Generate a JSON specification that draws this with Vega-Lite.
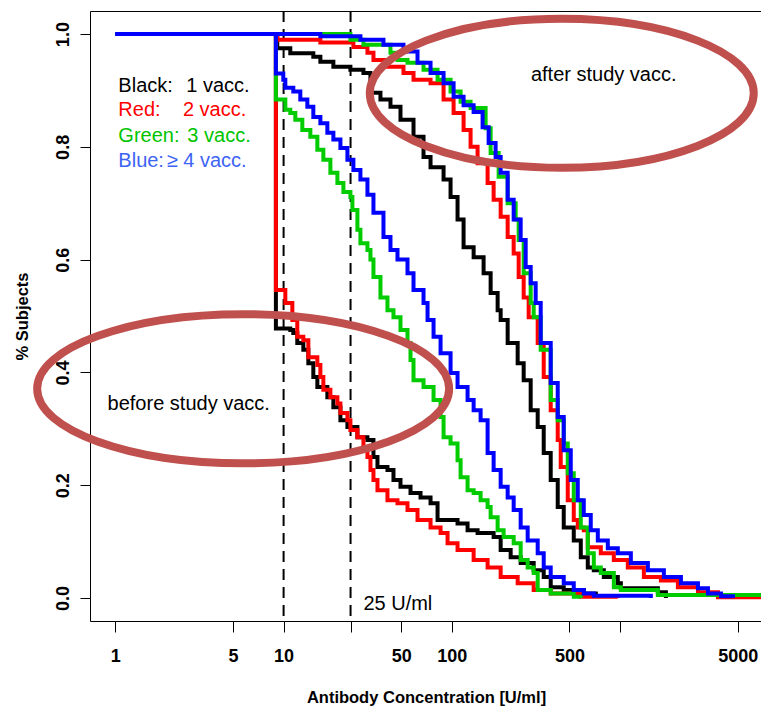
{
  "$schema": "https://vega.github.io/schema/vega-lite/v6.json",
  "width": 672,
  "height": 610,
  "autosize": "none",
  "padding": {"left": 90, "top": 11, "right": 0, "bottom": 86},
  "config": {
    "font": "Liberation Sans",
    "view": {"stroke": "#000000", "strokeWidth": 1},
    "axis": {"grid": false, "domain": false, "tickColor": "#000000", "labelColor": "#000000", "titleColor": "#000000", "labelFont": "Liberation Sans", "titleFont": "Liberation Sans"}
  },
  "datasets": {
    "curves": [
      {"dose": "1 vacc.", "time": "before", "conc": 1, "pct": 1},
      {"dose": "1 vacc.", "time": "before", "conc": 9, "pct": 0.478},
      {"dose": "1 vacc.", "time": "before", "conc": 10.96, "pct": 0.475},
      {"dose": "1 vacc.", "time": "before", "conc": 11.42, "pct": 0.47},
      {"dose": "1 vacc.", "time": "before", "conc": 12.06, "pct": 0.452},
      {"dose": "1 vacc.", "time": "before", "conc": 13.1, "pct": 0.44},
      {"dose": "1 vacc.", "time": "before", "conc": 14.03, "pct": 0.416},
      {"dose": "1 vacc.", "time": "before", "conc": 15.02, "pct": 0.392},
      {"dose": "1 vacc.", "time": "before", "conc": 15.87, "pct": 0.374},
      {"dose": "1 vacc.", "time": "before", "conc": 18.2, "pct": 0.356},
      {"dose": "1 vacc.", "time": "before", "conc": 19.76, "pct": 0.338},
      {"dose": "1 vacc.", "time": "before", "conc": 21.76, "pct": 0.315},
      {"dose": "1 vacc.", "time": "before", "conc": 23.95, "pct": 0.303},
      {"dose": "1 vacc.", "time": "before", "conc": 27.46, "pct": 0.285},
      {"dose": "1 vacc.", "time": "before", "conc": 31.5, "pct": 0.28},
      {"dose": "1 vacc.", "time": "before", "conc": 34.2, "pct": 0.25},
      {"dose": "1 vacc.", "time": "before", "conc": 36.13, "pct": 0.232},
      {"dose": "1 vacc.", "time": "before", "conc": 41.43, "pct": 0.227},
      {"dose": "1 vacc.", "time": "before", "conc": 44.98, "pct": 0.209},
      {"dose": "1 vacc.", "time": "before", "conc": 49.51, "pct": 0.197},
      {"dose": "1 vacc.", "time": "before", "conc": 56.79, "pct": 0.186},
      {"dose": "1 vacc.", "time": "before", "conc": 65.13, "pct": 0.178},
      {"dose": "1 vacc.", "time": "before", "conc": 74.7, "pct": 0.168},
      {"dose": "1 vacc.", "time": "before", "conc": 82.22, "pct": 0.138},
      {"dose": "1 vacc.", "time": "before", "conc": 108.1, "pct": 0.132},
      {"dose": "1 vacc.", "time": "before", "conc": 124, "pct": 0.12},
      {"dose": "1 vacc.", "time": "before", "conc": 142.2, "pct": 0.115},
      {"dose": "1 vacc.", "time": "before", "conc": 177.1, "pct": 0.108},
      {"dose": "1 vacc.", "time": "before", "conc": 195, "pct": 0.085},
      {"dose": "1 vacc.", "time": "before", "conc": 223.6, "pct": 0.072},
      {"dose": "1 vacc.", "time": "before", "conc": 256.4, "pct": 0.062},
      {"dose": "1 vacc.", "time": "before", "conc": 306.4, "pct": 0.049},
      {"dose": "1 vacc.", "time": "before", "conc": 351.5, "pct": 0.037},
      {"dose": "1 vacc.", "time": "before", "conc": 386.8, "pct": 0.019},
      {"dose": "1 vacc.", "time": "before", "conc": 462.3, "pct": 0.014},
      {"dose": "1 vacc.", "time": "before", "conc": 608.2, "pct": 0.008},
      {"dose": "1 vacc.", "time": "before", "conc": 717, "pct": 0},

      {"dose": "1 vacc.", "time": "after", "conc": 1, "pct": 1},
      {"dose": "1 vacc.", "time": "after", "conc": 9.17, "pct": 0.975},
      {"dose": "1 vacc.", "time": "after", "conc": 10.96, "pct": 0.966},
      {"dose": "1 vacc.", "time": "after", "conc": 15.02, "pct": 0.96},
      {"dose": "1 vacc.", "time": "after", "conc": 16.54, "pct": 0.951},
      {"dose": "1 vacc.", "time": "after", "conc": 19.76, "pct": 0.942},
      {"dose": "1 vacc.", "time": "after", "conc": 24.95, "pct": 0.937},
      {"dose": "1 vacc.", "time": "after", "conc": 29.82, "pct": 0.931},
      {"dose": "1 vacc.", "time": "after", "conc": 32.82, "pct": 0.896},
      {"dose": "1 vacc.", "time": "after", "conc": 37.64, "pct": 0.884},
      {"dose": "1 vacc.", "time": "after", "conc": 43.17, "pct": 0.871},
      {"dose": "1 vacc.", "time": "after", "conc": 49.51, "pct": 0.848},
      {"dose": "1 vacc.", "time": "after", "conc": 59.17, "pct": 0.818},
      {"dose": "1 vacc.", "time": "after", "conc": 67.86, "pct": 0.782},
      {"dose": "1 vacc.", "time": "after", "conc": 74.7, "pct": 0.764},
      {"dose": "1 vacc.", "time": "after", "conc": 89.27, "pct": 0.742},
      {"dose": "1 vacc.", "time": "after", "conc": 98.24, "pct": 0.711},
      {"dose": "1 vacc.", "time": "after", "conc": 108.1, "pct": 0.671},
      {"dose": "1 vacc.", "time": "after", "conc": 117.4, "pct": 0.622},
      {"dose": "1 vacc.", "time": "after", "conc": 134.7, "pct": 0.604},
      {"dose": "1 vacc.", "time": "after", "conc": 154.4, "pct": 0.576},
      {"dose": "1 vacc.", "time": "after", "conc": 170, "pct": 0.541},
      {"dose": "1 vacc.", "time": "after", "conc": 187.1, "pct": 0.51},
      {"dose": "1 vacc.", "time": "after", "conc": 195, "pct": 0.493},
      {"dose": "1 vacc.", "time": "after", "conc": 214.6, "pct": 0.452},
      {"dose": "1 vacc.", "time": "after", "conc": 246.1, "pct": 0.416},
      {"dose": "1 vacc.", "time": "after", "conc": 267.2, "pct": 0.386},
      {"dose": "1 vacc.", "time": "after", "conc": 294.1, "pct": 0.333},
      {"dose": "1 vacc.", "time": "after", "conc": 323.7, "pct": 0.303},
      {"dose": "1 vacc.", "time": "after", "conc": 351.5, "pct": 0.257},
      {"dose": "1 vacc.", "time": "after", "conc": 386.8, "pct": 0.209},
      {"dose": "1 vacc.", "time": "after", "conc": 425.8, "pct": 0.161},
      {"dose": "1 vacc.", "time": "after", "conc": 462.3, "pct": 0.125},
      {"dose": "1 vacc.", "time": "after", "conc": 530.3, "pct": 0.102},
      {"dose": "1 vacc.", "time": "after", "conc": 583.8, "pct": 0.072},
      {"dose": "1 vacc.", "time": "after", "conc": 642.5, "pct": 0.054},
      {"dose": "1 vacc.", "time": "after", "conc": 697.5, "pct": 0.049},
      {"dose": "1 vacc.", "time": "after", "conc": 799.9, "pct": 0.037},
      {"dose": "1 vacc.", "time": "after", "conc": 969, "pct": 0.026},
      {"dose": "1 vacc.", "time": "after", "conc": 1010, "pct": 0.017},
      {"dose": "1 vacc.", "time": "after", "conc": 1676, "pct": 0.01},
      {"dose": "1 vacc.", "time": "after", "conc": 1871, "pct": 0},

      {"dose": "2 vacc.", "time": "before", "conc": 1, "pct": 1},
      {"dose": "2 vacc.", "time": "before", "conc": 9, "pct": 0.546},
      {"dose": "2 vacc.", "time": "before", "conc": 10.24, "pct": 0.523},
      {"dose": "2 vacc.", "time": "before", "conc": 11.27, "pct": 0.493},
      {"dose": "2 vacc.", "time": "before", "conc": 12.06, "pct": 0.463},
      {"dose": "2 vacc.", "time": "before", "conc": 13.1, "pct": 0.457},
      {"dose": "2 vacc.", "time": "before", "conc": 14.03, "pct": 0.427},
      {"dose": "2 vacc.", "time": "before", "conc": 15.87, "pct": 0.413},
      {"dose": "2 vacc.", "time": "before", "conc": 16.54, "pct": 0.392},
      {"dose": "2 vacc.", "time": "before", "conc": 17.23, "pct": 0.369},
      {"dose": "2 vacc.", "time": "before", "conc": 18.97, "pct": 0.356},
      {"dose": "2 vacc.", "time": "before", "conc": 20.88, "pct": 0.345},
      {"dose": "2 vacc.", "time": "before", "conc": 21.76, "pct": 0.328},
      {"dose": "2 vacc.", "time": "before", "conc": 23.95, "pct": 0.315},
      {"dose": "2 vacc.", "time": "before", "conc": 24.95, "pct": 0.298},
      {"dose": "2 vacc.", "time": "before", "conc": 27.46, "pct": 0.285},
      {"dose": "2 vacc.", "time": "before", "conc": 29.82, "pct": 0.267},
      {"dose": "2 vacc.", "time": "before", "conc": 31.5, "pct": 0.25},
      {"dose": "2 vacc.", "time": "before", "conc": 32.82, "pct": 0.227},
      {"dose": "2 vacc.", "time": "before", "conc": 34.2, "pct": 0.209},
      {"dose": "2 vacc.", "time": "before", "conc": 36.13, "pct": 0.191},
      {"dose": "2 vacc.", "time": "before", "conc": 41.43, "pct": 0.173},
      {"dose": "2 vacc.", "time": "before", "conc": 47.52, "pct": 0.168},
      {"dose": "2 vacc.", "time": "before", "conc": 54.5, "pct": 0.156},
      {"dose": "2 vacc.", "time": "before", "conc": 62.5, "pct": 0.138},
      {"dose": "2 vacc.", "time": "before", "conc": 74.7, "pct": 0.125},
      {"dose": "2 vacc.", "time": "before", "conc": 85.67, "pct": 0.115},
      {"dose": "2 vacc.", "time": "before", "conc": 94.28, "pct": 0.097},
      {"dose": "2 vacc.", "time": "before", "conc": 108.1, "pct": 0.085},
      {"dose": "2 vacc.", "time": "before", "conc": 134.7, "pct": 0.067},
      {"dose": "2 vacc.", "time": "before", "conc": 163.1, "pct": 0.054},
      {"dose": "2 vacc.", "time": "before", "conc": 195, "pct": 0.037},
      {"dose": "2 vacc.", "time": "before", "conc": 246.1, "pct": 0.026},
      {"dose": "2 vacc.", "time": "before", "conc": 306.4, "pct": 0.014},
      {"dose": "2 vacc.", "time": "before", "conc": 386.8, "pct": 0.008},
      {"dose": "2 vacc.", "time": "before", "conc": 583.8, "pct": 0.002},
      {"dose": "2 vacc.", "time": "before", "conc": 969, "pct": 0},

      {"dose": "2 vacc.", "time": "after", "conc": 1, "pct": 1},
      {"dose": "2 vacc.", "time": "after", "conc": 9.17, "pct": 0.99},
      {"dose": "2 vacc.", "time": "after", "conc": 16.54, "pct": 0.985},
      {"dose": "2 vacc.", "time": "after", "conc": 25.99, "pct": 0.977},
      {"dose": "2 vacc.", "time": "after", "conc": 31.5, "pct": 0.967},
      {"dose": "2 vacc.", "time": "after", "conc": 34.2, "pct": 0.954},
      {"dose": "2 vacc.", "time": "after", "conc": 41.43, "pct": 0.942},
      {"dose": "2 vacc.", "time": "after", "conc": 51.59, "pct": 0.931},
      {"dose": "2 vacc.", "time": "after", "conc": 59.17, "pct": 0.919},
      {"dose": "2 vacc.", "time": "after", "conc": 74.7, "pct": 0.913},
      {"dose": "2 vacc.", "time": "after", "conc": 89.27, "pct": 0.884},
      {"dose": "2 vacc.", "time": "after", "conc": 102.4, "pct": 0.86},
      {"dose": "2 vacc.", "time": "after", "conc": 117.4, "pct": 0.83},
      {"dose": "2 vacc.", "time": "after", "conc": 129.2, "pct": 0.8},
      {"dose": "2 vacc.", "time": "after", "conc": 142.2, "pct": 0.771},
      {"dose": "2 vacc.", "time": "after", "conc": 163.1, "pct": 0.736},
      {"dose": "2 vacc.", "time": "after", "conc": 177.1, "pct": 0.706},
      {"dose": "2 vacc.", "time": "after", "conc": 195, "pct": 0.676},
      {"dose": "2 vacc.", "time": "after", "conc": 214.6, "pct": 0.64},
      {"dose": "2 vacc.", "time": "after", "conc": 233, "pct": 0.611},
      {"dose": "2 vacc.", "time": "after", "conc": 249.5, "pct": 0.569},
      {"dose": "2 vacc.", "time": "after", "conc": 267.2, "pct": 0.533},
      {"dose": "2 vacc.", "time": "after", "conc": 286.1, "pct": 0.498},
      {"dose": "2 vacc.", "time": "after", "conc": 323.7, "pct": 0.452},
      {"dose": "2 vacc.", "time": "after", "conc": 351.5, "pct": 0.392},
      {"dose": "2 vacc.", "time": "after", "conc": 386.8, "pct": 0.333},
      {"dose": "2 vacc.", "time": "after", "conc": 425.8, "pct": 0.28},
      {"dose": "2 vacc.", "time": "after", "conc": 443.6, "pct": 0.232},
      {"dose": "2 vacc.", "time": "after", "conc": 488.4, "pct": 0.173},
      {"dose": "2 vacc.", "time": "after", "conc": 530.3, "pct": 0.138},
      {"dose": "2 vacc.", "time": "after", "conc": 560.2, "pct": 0.125},
      {"dose": "2 vacc.", "time": "after", "conc": 608.2, "pct": 0.12},
      {"dose": "2 vacc.", "time": "after", "conc": 642.5, "pct": 0.09},
      {"dose": "2 vacc.", "time": "after", "conc": 767.7, "pct": 0.079},
      {"dose": "2 vacc.", "time": "after", "conc": 917.5, "pct": 0.067},
      {"dose": "2 vacc.", "time": "after", "conc": 1111, "pct": 0.054},
      {"dose": "2 vacc.", "time": "after", "conc": 1384, "pct": 0.037},
      {"dose": "2 vacc.", "time": "after", "conc": 1747, "pct": 0.031},
      {"dose": "2 vacc.", "time": "after", "conc": 2205, "pct": 0.019},
      {"dose": "2 vacc.", "time": "after", "conc": 2901, "pct": 0.01},
      {"dose": "2 vacc.", "time": "after", "conc": 3815, "pct": 0.001},
      {"dose": "2 vacc.", "time": "after", "conc": 6970, "pct": 0.001},

      {"dose": "3 vacc.", "time": "before", "conc": 1, "pct": 1},
      {"dose": "3 vacc.", "time": "before", "conc": 9, "pct": 0.884},
      {"dose": "3 vacc.", "time": "before", "conc": 10.24, "pct": 0.866},
      {"dose": "3 vacc.", "time": "before", "conc": 10.96, "pct": 0.86},
      {"dose": "3 vacc.", "time": "before", "conc": 11.74, "pct": 0.848},
      {"dose": "3 vacc.", "time": "before", "conc": 12.92, "pct": 0.83},
      {"dose": "3 vacc.", "time": "before", "conc": 14.42, "pct": 0.818},
      {"dose": "3 vacc.", "time": "before", "conc": 15.87, "pct": 0.795},
      {"dose": "3 vacc.", "time": "before", "conc": 17.23, "pct": 0.777},
      {"dose": "3 vacc.", "time": "before", "conc": 18.97, "pct": 0.754},
      {"dose": "3 vacc.", "time": "before", "conc": 20.88, "pct": 0.736},
      {"dose": "3 vacc.", "time": "before", "conc": 22.67, "pct": 0.72},
      {"dose": "3 vacc.", "time": "before", "conc": 24.95, "pct": 0.711},
      {"dose": "3 vacc.", "time": "before", "conc": 25.64, "pct": 0.688},
      {"dose": "3 vacc.", "time": "before", "conc": 27.46, "pct": 0.653},
      {"dose": "3 vacc.", "time": "before", "conc": 28.61, "pct": 0.629},
      {"dose": "3 vacc.", "time": "before", "conc": 31.5, "pct": 0.617},
      {"dose": "3 vacc.", "time": "before", "conc": 32.82, "pct": 0.6},
      {"dose": "3 vacc.", "time": "before", "conc": 34.2, "pct": 0.569},
      {"dose": "3 vacc.", "time": "before", "conc": 37.64, "pct": 0.533},
      {"dose": "3 vacc.", "time": "before", "conc": 41.43, "pct": 0.51},
      {"dose": "3 vacc.", "time": "before", "conc": 44.98, "pct": 0.498},
      {"dose": "3 vacc.", "time": "before", "conc": 49.51, "pct": 0.475},
      {"dose": "3 vacc.", "time": "before", "conc": 54.5, "pct": 0.452},
      {"dose": "3 vacc.", "time": "before", "conc": 56.79, "pct": 0.422},
      {"dose": "3 vacc.", "time": "before", "conc": 59.17, "pct": 0.386},
      {"dose": "3 vacc.", "time": "before", "conc": 67.86, "pct": 0.374},
      {"dose": "3 vacc.", "time": "before", "conc": 77.84, "pct": 0.351},
      {"dose": "3 vacc.", "time": "before", "conc": 85.67, "pct": 0.321},
      {"dose": "3 vacc.", "time": "before", "conc": 89.27, "pct": 0.285},
      {"dose": "3 vacc.", "time": "before", "conc": 98.24, "pct": 0.274},
      {"dose": "3 vacc.", "time": "before", "conc": 108.1, "pct": 0.244},
      {"dose": "3 vacc.", "time": "before", "conc": 112.7, "pct": 0.214},
      {"dose": "3 vacc.", "time": "before", "conc": 124, "pct": 0.191},
      {"dose": "3 vacc.", "time": "before", "conc": 134.7, "pct": 0.186},
      {"dose": "3 vacc.", "time": "before", "conc": 148.2, "pct": 0.173},
      {"dose": "3 vacc.", "time": "before", "conc": 163.1, "pct": 0.161},
      {"dose": "3 vacc.", "time": "before", "conc": 170, "pct": 0.143},
      {"dose": "3 vacc.", "time": "before", "conc": 187.1, "pct": 0.12},
      {"dose": "3 vacc.", "time": "before", "conc": 203.1, "pct": 0.108},
      {"dose": "3 vacc.", "time": "before", "conc": 233, "pct": 0.097},
      {"dose": "3 vacc.", "time": "before", "conc": 256.4, "pct": 0.067},
      {"dose": "3 vacc.", "time": "before", "conc": 282.2, "pct": 0.054},
      {"dose": "3 vacc.", "time": "before", "conc": 306.4, "pct": 0.044},
      {"dose": "3 vacc.", "time": "before", "conc": 323.7, "pct": 0.014},
      {"dose": "3 vacc.", "time": "before", "conc": 386.8, "pct": 0.008},
      {"dose": "3 vacc.", "time": "before", "conc": 530.3, "pct": 0.002},
      {"dose": "3 vacc.", "time": "before", "conc": 583.8, "pct": 0},

      {"dose": "3 vacc.", "time": "after", "conc": 1, "pct": 1},
      {"dose": "3 vacc.", "time": "after", "conc": 24.95, "pct": 0.99},
      {"dose": "3 vacc.", "time": "after", "conc": 29.82, "pct": 0.981},
      {"dose": "3 vacc.", "time": "after", "conc": 43.17, "pct": 0.967},
      {"dose": "3 vacc.", "time": "after", "conc": 47.52, "pct": 0.954},
      {"dose": "3 vacc.", "time": "after", "conc": 54.5, "pct": 0.949},
      {"dose": "3 vacc.", "time": "after", "conc": 67.86, "pct": 0.937},
      {"dose": "3 vacc.", "time": "after", "conc": 82.22, "pct": 0.919},
      {"dose": "3 vacc.", "time": "after", "conc": 98.24, "pct": 0.898},
      {"dose": "3 vacc.", "time": "after", "conc": 112.7, "pct": 0.88},
      {"dose": "3 vacc.", "time": "after", "conc": 129.2, "pct": 0.869},
      {"dose": "3 vacc.", "time": "after", "conc": 158.7, "pct": 0.833},
      {"dose": "3 vacc.", "time": "after", "conc": 170, "pct": 0.789},
      {"dose": "3 vacc.", "time": "after", "conc": 189.7, "pct": 0.747},
      {"dose": "3 vacc.", "time": "after", "conc": 214.6, "pct": 0.7},
      {"dose": "3 vacc.", "time": "after", "conc": 239.4, "pct": 0.671},
      {"dose": "3 vacc.", "time": "after", "conc": 249.5, "pct": 0.635},
      {"dose": "3 vacc.", "time": "after", "conc": 267.2, "pct": 0.576},
      {"dose": "3 vacc.", "time": "after", "conc": 294.1, "pct": 0.523},
      {"dose": "3 vacc.", "time": "after", "conc": 306.4, "pct": 0.498},
      {"dose": "3 vacc.", "time": "after", "conc": 337.3, "pct": 0.44},
      {"dose": "3 vacc.", "time": "after", "conc": 386.8, "pct": 0.351},
      {"dose": "3 vacc.", "time": "after", "conc": 425.8, "pct": 0.315},
      {"dose": "3 vacc.", "time": "after", "conc": 462.3, "pct": 0.274},
      {"dose": "3 vacc.", "time": "after", "conc": 488.4, "pct": 0.221},
      {"dose": "3 vacc.", "time": "after", "conc": 530.3, "pct": 0.173},
      {"dose": "3 vacc.", "time": "after", "conc": 583.8, "pct": 0.125},
      {"dose": "3 vacc.", "time": "after", "conc": 642.5, "pct": 0.079},
      {"dose": "3 vacc.", "time": "after", "conc": 697.5, "pct": 0.054},
      {"dose": "3 vacc.", "time": "after", "conc": 767.7, "pct": 0.044},
      {"dose": "3 vacc.", "time": "after", "conc": 917.5, "pct": 0.019},
      {"dose": "3 vacc.", "time": "after", "conc": 1010, "pct": 0.014},
      {"dose": "3 vacc.", "time": "after", "conc": 1676, "pct": 0.005},
      {"dose": "3 vacc.", "time": "after", "conc": 6970, "pct": 0.005},

      {"dose": "≥4 vacc.", "time": "before", "conc": 1, "pct": 1},
      {"dose": "≥4 vacc.", "time": "before", "conc": 9, "pct": 0.93},
      {"dose": "≥4 vacc.", "time": "before", "conc": 9.96, "pct": 0.919},
      {"dose": "≥4 vacc.", "time": "before", "conc": 10.24, "pct": 0.905},
      {"dose": "≥4 vacc.", "time": "before", "conc": 11.42, "pct": 0.898},
      {"dose": "≥4 vacc.", "time": "before", "conc": 12.57, "pct": 0.884},
      {"dose": "≥4 vacc.", "time": "before", "conc": 13.84, "pct": 0.871},
      {"dose": "≥4 vacc.", "time": "before", "conc": 15.02, "pct": 0.853},
      {"dose": "≥4 vacc.", "time": "before", "conc": 16.54, "pct": 0.842},
      {"dose": "≥4 vacc.", "time": "before", "conc": 18.2, "pct": 0.825},
      {"dose": "≥4 vacc.", "time": "before", "conc": 19.76, "pct": 0.813},
      {"dose": "≥4 vacc.", "time": "before", "conc": 21.76, "pct": 0.798},
      {"dose": "≥4 vacc.", "time": "before", "conc": 23.95, "pct": 0.777},
      {"dose": "≥4 vacc.", "time": "before", "conc": 25.99, "pct": 0.759},
      {"dose": "≥4 vacc.", "time": "before", "conc": 28.61, "pct": 0.742},
      {"dose": "≥4 vacc.", "time": "before", "conc": 31.5, "pct": 0.715},
      {"dose": "≥4 vacc.", "time": "before", "conc": 34.2, "pct": 0.683},
      {"dose": "≥4 vacc.", "time": "before", "conc": 39.22, "pct": 0.64},
      {"dose": "≥4 vacc.", "time": "before", "conc": 43.17, "pct": 0.617},
      {"dose": "≥4 vacc.", "time": "before", "conc": 47.52, "pct": 0.6},
      {"dose": "≥4 vacc.", "time": "before", "conc": 54.5, "pct": 0.576},
      {"dose": "≥4 vacc.", "time": "before", "conc": 59.17, "pct": 0.546},
      {"dose": "≥4 vacc.", "time": "before", "conc": 67.86, "pct": 0.523},
      {"dose": "≥4 vacc.", "time": "before", "conc": 71.7, "pct": 0.493},
      {"dose": "≥4 vacc.", "time": "before", "conc": 77.84, "pct": 0.463},
      {"dose": "≥4 vacc.", "time": "before", "conc": 85.67, "pct": 0.434},
      {"dose": "≥4 vacc.", "time": "before", "conc": 98.24, "pct": 0.399},
      {"dose": "≥4 vacc.", "time": "before", "conc": 108.1, "pct": 0.374},
      {"dose": "≥4 vacc.", "time": "before", "conc": 124, "pct": 0.351},
      {"dose": "≥4 vacc.", "time": "before", "conc": 134.7, "pct": 0.333},
      {"dose": "≥4 vacc.", "time": "before", "conc": 148.2, "pct": 0.315},
      {"dose": "≥4 vacc.", "time": "before", "conc": 163.1, "pct": 0.257},
      {"dose": "≥4 vacc.", "time": "before", "conc": 177.1, "pct": 0.227},
      {"dose": "≥4 vacc.", "time": "before", "conc": 195, "pct": 0.197},
      {"dose": "≥4 vacc.", "time": "before", "conc": 214.6, "pct": 0.178},
      {"dose": "≥4 vacc.", "time": "before", "conc": 233, "pct": 0.156},
      {"dose": "≥4 vacc.", "time": "before", "conc": 256.4, "pct": 0.125},
      {"dose": "≥4 vacc.", "time": "before", "conc": 282.2, "pct": 0.102},
      {"dose": "≥4 vacc.", "time": "before", "conc": 323.7, "pct": 0.079},
      {"dose": "≥4 vacc.", "time": "before", "conc": 351.5, "pct": 0.054},
      {"dose": "≥4 vacc.", "time": "before", "conc": 386.8, "pct": 0.037},
      {"dose": "≥4 vacc.", "time": "before", "conc": 462.3, "pct": 0.026},
      {"dose": "≥4 vacc.", "time": "before", "conc": 530.3, "pct": 0.014},
      {"dose": "≥4 vacc.", "time": "before", "conc": 608.2, "pct": 0.008},
      {"dose": "≥4 vacc.", "time": "before", "conc": 697.5, "pct": 0.004},
      {"dose": "≥4 vacc.", "time": "before", "conc": 1523, "pct": 0},

      {"dose": "≥4 vacc.", "time": "after", "conc": 1, "pct": 1},
      {"dose": "≥4 vacc.", "time": "after", "conc": 16.54, "pct": 0.996},
      {"dose": "≥4 vacc.", "time": "after", "conc": 28.61, "pct": 0.99},
      {"dose": "≥4 vacc.", "time": "after", "conc": 39.22, "pct": 0.981},
      {"dose": "≥4 vacc.", "time": "after", "conc": 51.59, "pct": 0.969},
      {"dose": "≥4 vacc.", "time": "after", "conc": 62.5, "pct": 0.949},
      {"dose": "≥4 vacc.", "time": "after", "conc": 74.7, "pct": 0.931},
      {"dose": "≥4 vacc.", "time": "after", "conc": 89.27, "pct": 0.913},
      {"dose": "≥4 vacc.", "time": "after", "conc": 102.4, "pct": 0.889},
      {"dose": "≥4 vacc.", "time": "after", "conc": 117.4, "pct": 0.874},
      {"dose": "≥4 vacc.", "time": "after", "conc": 134.7, "pct": 0.862},
      {"dose": "≥4 vacc.", "time": "after", "conc": 152.3, "pct": 0.835},
      {"dose": "≥4 vacc.", "time": "after", "conc": 165.4, "pct": 0.807},
      {"dose": "≥4 vacc.", "time": "after", "conc": 182, "pct": 0.782},
      {"dose": "≥4 vacc.", "time": "after", "conc": 195, "pct": 0.754},
      {"dose": "≥4 vacc.", "time": "after", "conc": 214.6, "pct": 0.706},
      {"dose": "≥4 vacc.", "time": "after", "conc": 233, "pct": 0.671},
      {"dose": "≥4 vacc.", "time": "after", "conc": 256.4, "pct": 0.635},
      {"dose": "≥4 vacc.", "time": "after", "conc": 274.6, "pct": 0.587},
      {"dose": "≥4 vacc.", "time": "after", "conc": 294.1, "pct": 0.558},
      {"dose": "≥4 vacc.", "time": "after", "conc": 314.9, "pct": 0.523},
      {"dose": "≥4 vacc.", "time": "after", "conc": 337.3, "pct": 0.452},
      {"dose": "≥4 vacc.", "time": "after", "conc": 386.8, "pct": 0.381},
      {"dose": "≥4 vacc.", "time": "after", "conc": 425.8, "pct": 0.321},
      {"dose": "≥4 vacc.", "time": "after", "conc": 462.3, "pct": 0.262},
      {"dose": "≥4 vacc.", "time": "after", "conc": 508.9, "pct": 0.209},
      {"dose": "≥4 vacc.", "time": "after", "conc": 560.2, "pct": 0.173},
      {"dose": "≥4 vacc.", "time": "after", "conc": 608.2, "pct": 0.147},
      {"dose": "≥4 vacc.", "time": "after", "conc": 669, "pct": 0.12},
      {"dose": "≥4 vacc.", "time": "after", "conc": 736.9, "pct": 0.102},
      {"dose": "≥4 vacc.", "time": "after", "conc": 845, "pct": 0.088},
      {"dose": "≥4 vacc.", "time": "after", "conc": 969, "pct": 0.079},
      {"dose": "≥4 vacc.", "time": "after", "conc": 1158, "pct": 0.062},
      {"dose": "≥4 vacc.", "time": "after", "conc": 1462, "pct": 0.049},
      {"dose": "≥4 vacc.", "time": "after", "conc": 1820, "pct": 0.037},
      {"dose": "≥4 vacc.", "time": "after", "conc": 2298, "pct": 0.026},
      {"dose": "≥4 vacc.", "time": "after", "conc": 2901, "pct": 0.017},
      {"dose": "≥4 vacc.", "time": "after", "conc": 3327, "pct": 0.008},
      {"dose": "≥4 vacc.", "time": "after", "conc": 3976, "pct": 0.003},
      {"dose": "≥4 vacc.", "time": "after", "conc": 4687, "pct": 0}
    ]
  },
  "layer": [
    {
      "data": {"values": [{"cutoff": 10}, {"cutoff": 25}]},
      "mark": {"type": "rule", "color": "#000000", "strokeWidth": 2, "strokeDash": [11, 7]},
      "encoding": {
        "x": {
          "field": "cutoff",
          "type": "quantitative",
          "scale": {"type": "log", "domain": [0.707, 6970], "nice": false},
          "axis": {
            "title": "Antibody Concentration [U/ml]",
            "values": [1, 5, 10, 25, 50, 100, 500, 1000, 5000],
            "labelExpr": "datum.value == 25 || datum.value == 1000 ? '' : format(datum.value, 'd')",
            "labelOverlap": false,
            "labelFlush": false,
            "tickSize": 11,
            "labelPadding": 15,
            "labelFontSize": 18,
            "labelFontWeight": "bold",
            "titleFontSize": 16.5,
            "titleFontWeight": "bold",
            "titlePadding": 24
          }
        }
      }
    },
    {
      "data": {"name": "curves"},
      "mark": {"type": "line", "interpolate": "step-after", "strokeWidth": 4, "clip": true},
      "encoding": {
        "x": {"field": "conc", "type": "quantitative"},
        "y": {
          "field": "pct",
          "type": "quantitative",
          "scale": {"domain": [-0.041, 1.041], "nice": false, "zero": false},
          "axis": {
            "title": "% Subjects",
            "values": [0, 0.2, 0.4, 0.6, 0.8, 1],
            "format": ".1f",
            "labelAngle": -90,
            "labelAlign": "center",
            "labelBaseline": "alphabetic",
            "tickSize": 10,
            "labelPadding": 12,
            "labelFontSize": 18,
            "labelFontWeight": "bold",
            "titleFontSize": 16.5,
            "titleFontWeight": "bold",
            "titlePadding": 24
          }
        },
        "color": {
          "field": "dose",
          "type": "nominal",
          "scale": {"domain": ["1 vacc.", "2 vacc.", "3 vacc.", "≥4 vacc."], "range": ["#000000", "#ff0000", "#00cc00", "#0000ff"]},
          "legend": null
        },
        "detail": {"field": "time", "type": "nominal"}
      }
    },
    {
      "data": {"values": [{"conc": 450, "pct": 0.895}]},
      "mark": {"type": "point", "shape": "M-1,0A1,0.388,0,1,1,1,0A1,0.388,0,1,1,-1,0Z", "size": 147456, "filled": false, "opacity": 1, "stroke": "#c0504d", "strokeWidth": 8},
      "encoding": {"x": {"field": "conc", "type": "quantitative"}, "y": {"field": "pct", "type": "quantitative"}}
    },
    {
      "data": {"values": [{"conc": 5.75, "pct": 0.371}]},
      "mark": {"type": "point", "shape": "M-1,0A1,0.362,0,1,1,1,0A1,0.362,0,1,1,-1,0Z", "size": 169744, "filled": false, "opacity": 1, "stroke": "#c0504d", "strokeWidth": 8},
      "encoding": {"x": {"field": "conc", "type": "quantitative"}, "y": {"field": "pct", "type": "quantitative"}}
    },
    {
      "data": {"values": [
        {"note": "after study vacc.", "conc": 799, "pct": 0.916},
        {"note": "before study vacc.", "conc": 2.73, "pct": 0.333}
      ]},
      "mark": {"type": "text", "align": "center", "baseline": "alphabetic", "fontSize": 20, "color": "#000000"},
      "encoding": {"x": {"field": "conc", "type": "quantitative"}, "y": {"field": "pct", "type": "quantitative"}, "text": {"field": "note"}}
    },
    {
      "data": {"values": [{"note": "25 U/ml", "conc": 29.8, "pct": -0.021}]},
      "mark": {"type": "text", "align": "left", "baseline": "alphabetic", "fontSize": 20, "color": "#000000"},
      "encoding": {"x": {"field": "conc", "type": "quantitative"}, "y": {"field": "pct", "type": "quantitative"}, "text": {"field": "note"}}
    },
    {
      "data": {"values": [{"key": "Black:", "conc": 1.042, "pct": 0.898}, {"key": "1 vacc.", "conc": 2.64, "pct": 0.898}]},
      "mark": {"type": "text", "align": "left", "baseline": "alphabetic", "fontSize": 20, "color": "#000000"},
      "encoding": {"x": {"field": "conc", "type": "quantitative"}, "y": {"field": "pct", "type": "quantitative"}, "text": {"field": "key"}}
    },
    {
      "data": {"values": [{"key": "Red:", "conc": 1.042, "pct": 0.854}, {"key": "2 vacc.", "conc": 2.52, "pct": 0.854}]},
      "mark": {"type": "text", "align": "left", "baseline": "alphabetic", "fontSize": 20, "color": "#ff0000"},
      "encoding": {"x": {"field": "conc", "type": "quantitative"}, "y": {"field": "pct", "type": "quantitative"}, "text": {"field": "key"}}
    },
    {
      "data": {"values": [{"key": "Green:", "conc": 1.042, "pct": 0.809}, {"key": "3 vacc.", "conc": 2.68, "pct": 0.809}]},
      "mark": {"type": "text", "align": "left", "baseline": "alphabetic", "fontSize": 20, "color": "#00c400"},
      "encoding": {"x": {"field": "conc", "type": "quantitative"}, "y": {"field": "pct", "type": "quantitative"}, "text": {"field": "key"}}
    },
    {
      "data": {"values": [{"key": "Blue:", "conc": 1.042, "pct": 0.765}, {"key": "≥ 4 vacc.", "conc": 2.02, "pct": 0.765}]},
      "mark": {"type": "text", "align": "left", "baseline": "alphabetic", "fontSize": 20, "color": "#3d64f5"},
      "encoding": {"x": {"field": "conc", "type": "quantitative"}, "y": {"field": "pct", "type": "quantitative"}, "text": {"field": "key"}}
    }
  ]
}
